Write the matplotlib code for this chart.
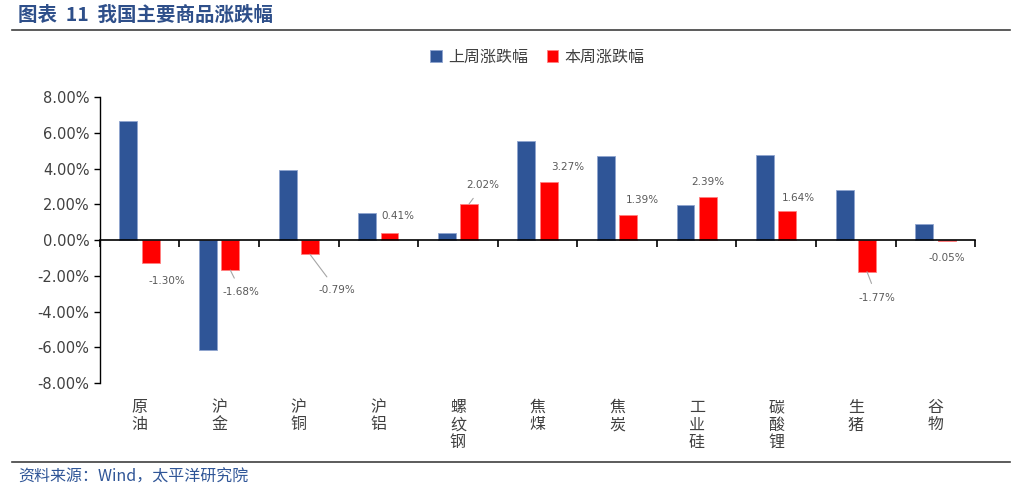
import matplotlib.pyplot as plt
import numpy as np
from matplotlib.lines import Line2D
from matplotlib.ticker import FuncFormatter

plt.rcParams['font.family'] = ['Noto Sans CJK SC', 'DejaVu Sans']

# 数据
categories = ["原油", "沪金", "沪铜", "沪铝", "螺纹钢", "焦煤", "焦炭", "工业硅", "碳酸锂", "生猪", "谷物"]
last_week = [6.68, -6.15, 3.93, 1.52, 0.42, 5.55, 4.72, 1.97, 4.78, 2.80, 0.92]
this_week = [-1.30, -1.68, -0.79, 0.41, 2.02, 3.27, 1.39, 2.39, 1.64, -1.77, -0.05]

# 数据标签偏移(像素)和是否画引线
label_offsets = [(16, -18), (11, -22), (27, -36), (8, 17), (14, 19), (19, 15),
                 (14, 15), (0, 15), (11, 13), (10, -26), (0, -17)]
leader = [False, True, True, False, True, False, False, False, False, True, False]

blue = "#2F5597"
red = "#FF0000"
grey = "#595959"

fig = plt.figure(figsize=(10.18, 4.93), dpi=100)
ax = fig.add_axes([0.098, 0.223, 0.860, 0.580])

x = np.arange(len(categories))
w = 0.225
ax.bar(x - 0.14, last_week, w, color=blue, edgecolor="#8FA5CF", linewidth=0.6, label="上周涨跌幅", zorder=2)
ax.bar(x + 0.14, this_week, w, color=red, edgecolor="#FF8080", linewidth=0.6, label="本周涨跌幅", zorder=2)

for i, v in enumerate(this_week):
    dx, dy = label_offsets[i]
    props = dict(arrowstyle="-", color="#A6A6A6", lw=0.8, shrinkA=5, shrinkB=0) if leader[i] else None
    ax.annotate(f"{v:.2f}%", xy=(x[i] + 0.14, v), xytext=(dx, dy), textcoords="offset pixels",
                ha="center", va="center", fontsize=7.5, color=grey, family="DejaVu Sans",
                arrowprops=props)

ax.set_xlim(-0.5, len(categories) - 0.5)
ax.set_ylim(-8, 8)
ax.set_yticks(np.arange(-8, 8.1, 2))
ax.yaxis.set_major_formatter(FuncFormatter(lambda v, p: f"{v:.2f}%"))
ax.tick_params(axis="y", labelsize=10.5, colors="black", length=4, width=1, labelcolor="#404040")
for lab in ax.get_yticklabels():
    lab.set_family("DejaVu Sans")

ax.spines["top"].set_visible(False)
ax.spines["right"].set_visible(False)
ax.spines["bottom"].set_position(("data", 0))
ax.spines["bottom"].set_linewidth(1.2)
ax.spines["left"].set_linewidth(1.0)
ax.set_xticks(np.arange(-0.5, len(categories), 1))
ax.set_xticklabels([])
ax.tick_params(axis="x", direction="out", length=5, width=1.2)

for i, c in enumerate(categories):
    ax.text(x[i], -0.055, "\n".join(c), transform=ax.get_xaxis_transform(),
            ha="center", va="top", fontsize=11.5, color="#404040", linespacing=1.05)

ax.legend(loc="center", bbox_to_anchor=(0.5, 1.14), ncol=2, frameon=False,
          fontsize=11.5, handlelength=0.7, handleheight=0.7, columnspacing=1.2, handletextpad=0.4,
          labelcolor="#404040")

# 标题与来源
fig.text(0.018, 0.968, "图表  11  我国主要商品涨跌幅", fontsize=14, fontweight="bold", color="#2E4F8A", va="center")
fig.add_artist(Line2D([0.012, 0.992], [0.94, 0.94], color="#404040", lw=1.2, transform=fig.transFigure))
fig.add_artist(Line2D([0.012, 0.992], [0.062, 0.062], color="#404040", lw=1.2, transform=fig.transFigure))
fig.text(0.018, 0.032, "资料来源：Wind，太平洋研究院", fontsize=11.5, color="#2F5597", va="center")

plt.savefig("out.png", dpi=100)
